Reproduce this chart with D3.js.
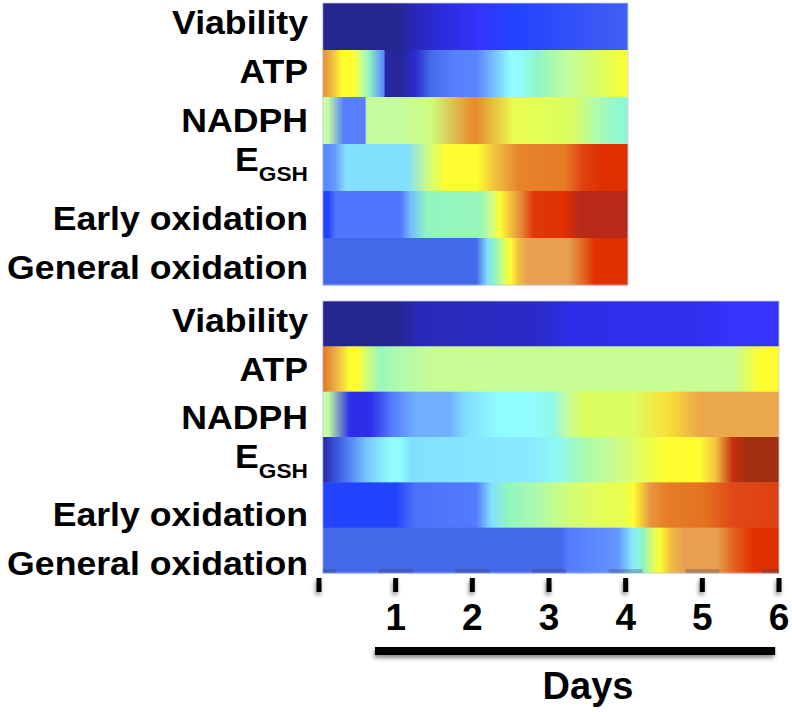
<!DOCTYPE html>
<html>
<head>
<meta charset="utf-8">
<script src="https://cdn.jsdelivr.net/npm/d3@7"></script>
<style>
  html, body { margin: 0; padding: 0; background: #fff; }
  svg { display: block; }
  text { font-family: "Liberation Sans", Arial, Helvetica, sans-serif; font-weight: bold; fill: #000; }
</style>
</head>
<body>
<svg id="chart" width="792" height="712"></svg>
<script>
// ---------------- DATA ----------------
const rowNames = ["Viability", "ATP", "NADPH", "EGSH", "Early oxidation", "General oxidation"];
const dayTicks = [0, 1, 2, 3, 4, 5, 6];
const tickLabels = ["", "1", "2", "3", "4", "5", "6"];
const axisTitle = "Days";

// extent of each panel in days
const shortExtent = [0.05, 4.03];
const longExtent = [0.05, 6.0];
const daysBar = [0.73, 5.95];

// colour-map values (0 = low / dark blue, 1 = high / dark red) along days: [day, value]
const shortViability = [[0.05,0.00],[1.00,0.00],[1.20,0.04],[1.60,0.10],[2.10,0.15],[2.60,0.17],[3.30,0.19],[4.03,0.21]];
const shortATP = [[0.05,0.84],[0.18,0.76],[0.30,0.70],[0.45,0.70],[0.55,0.60],[0.65,0.52],[0.85,0.28],[0.86,0.02],[1.06,0.01],[1.25,0.08],[1.45,0.22],[1.75,0.27],[2.05,0.28],[2.25,0.34],[2.50,0.45],[2.62,0.45],[2.85,0.52],[3.25,0.58],[3.67,0.64],[4.03,0.70]];
const shortNADPH = [[0.05,0.58],[0.12,0.58],[0.32,0.27],[0.60,0.27],[0.62,0.58],[1.06,0.58],[1.45,0.61],[2.00,0.84],[2.05,0.84],[2.55,0.66],[3.30,0.64],[3.60,0.56],[3.90,0.50],[4.03,0.50]];
const shortEGSH = [[0.05,0.28],[0.20,0.30],[0.35,0.40],[1.15,0.40],[1.45,0.62],[1.65,0.70],[2.05,0.70],[2.30,0.76],[2.60,0.85],[3.20,0.86],[3.45,0.91],[3.67,0.93],[4.03,0.93]];
const shortEarly = [[0.05,0.17],[0.12,0.17],[0.22,0.25],[1.06,0.25],[1.20,0.35],[1.40,0.52],[2.10,0.53],[2.25,0.60],[2.36,0.70],[2.45,0.74],[2.60,0.82],[2.80,0.92],[3.20,0.93],[3.40,0.98],[4.03,0.98]];
const shortGeneral = [[0.05,0.22],[2.05,0.22],[2.20,0.40],[2.30,0.52],[2.42,0.64],[2.50,0.70],[2.60,0.76],[2.72,0.80],[3.25,0.80],[3.45,0.88],[3.60,0.93],[4.03,0.93]];

const longViability = [[0.05,0.00],[1.00,0.00],[1.30,0.05],[2.80,0.07],[3.30,0.12],[4.97,0.13],[5.40,0.15],[6.00,0.15]];
const longATP = [[0.05,0.87],[0.22,0.78],[0.40,0.70],[0.50,0.70],[0.62,0.62],[0.80,0.53],[1.06,0.56],[1.50,0.59],[5.40,0.59],[5.57,0.64],[5.75,0.70],[6.00,0.70]];
const longNADPH = [[0.05,0.58],[0.12,0.58],[0.40,0.12],[0.67,0.12],[0.97,0.27],[1.27,0.33],[1.70,0.33],[1.93,0.40],[2.36,0.45],[2.80,0.45],[3.06,0.48],[3.23,0.58],[3.45,0.64],[4.10,0.64],[4.55,0.73],[4.97,0.79],[6.00,0.79]];
const longEGSH = [[0.05,0.03],[0.30,0.22],[0.62,0.36],[0.93,0.45],[1.06,0.45],[1.20,0.40],[2.80,0.42],[3.15,0.47],[3.45,0.55],[3.90,0.60],[4.32,0.67],[4.55,0.70],[4.97,0.70],[5.18,0.76],[5.40,0.96],[5.60,1.00],[6.00,1.00]];
const longEarly = [[0.05,0.17],[1.00,0.17],[1.25,0.24],[2.05,0.26],[2.25,0.40],[2.45,0.52],[2.80,0.55],[3.30,0.62],[3.67,0.65],[3.97,0.66],[4.10,0.70],[4.32,0.82],[4.55,0.86],[5.00,0.87],[5.40,0.90],[6.00,0.91]];
const longGeneral = [[0.05,0.22],[3.15,0.22],[3.25,0.26],[3.90,0.30],[4.10,0.42],[4.23,0.52],[4.36,0.64],[4.45,0.70],[4.58,0.76],[4.75,0.80],[5.18,0.80],[5.40,0.88],[5.66,0.93],[6.00,0.93]];

// jet-like colour map
const cmapValues = [0.00,0.04,0.08,0.12,0.15,0.17,0.20,0.22,0.25,0.28,0.33,0.40,0.45,0.52,0.58,0.64,0.70,0.76,0.80,0.84,0.87,0.90,0.93,0.98,1.00];
const cmapColors = ["#25258f","#2828b0","#2a2ad0","#2e2ee8","#3434fc","#2244ff","#3c58f4","#4468ea","#5076ff","#5a84ff","#70b0ff","#82e0ff","#90fcff","#8ff6c0","#c4fca0","#dcfe60","#fefe30","#f2c040","#e8a050","#e88c30","#e47420","#e04818","#e03000","#b82a18","#a03010"];

const shortPanel = [shortViability, shortATP, shortNADPH, shortEGSH, shortEarly, shortGeneral];
const longPanel = [longViability, longATP, longNADPH, longEGSH, longEarly, longGeneral];

// ---------------- DRAWING ----------------
const svg = d3.select("#chart");
const defs = svg.append("defs");

const x = d3.scaleLinear().domain([0, 6]).range([319, 779]);
const color = d3.scaleLinear().domain(cmapValues).range(cmapColors).clamp(true);

const shadow = defs.append("filter").attr("id", "shadow")
  .attr("filterUnits", "userSpaceOnUse")
  .attr("x", 0).attr("y", 0).attr("width", 792).attr("height", 712);
shadow.append("feDropShadow").attr("dx", -1).attr("dy", 3).attr("stdDeviation", 2.2)
  .attr("flood-color", "#000").attr("flood-opacity", 0.45);

function drawPanel(id, panelData, extent, yRange, labelRange) {
  const y = d3.scaleBand().domain(rowNames).range(yRange);
  const x0 = x(extent[0]), x1 = x(extent[1]);
  const g = svg.append("g").attr("class", "panel-" + id);

  rowNames.forEach((name, i) => {
    const gid = `g-${id}-${i}`;
    const grad = defs.append("linearGradient").attr("id", gid)
      .attr("gradientUnits", "userSpaceOnUse")
      .attr("x1", x0).attr("x2", x1).attr("y1", 0).attr("y2", 0);
    grad.selectAll("stop").data(panelData[i]).join("stop")
      .attr("offset", d => Math.max(0, Math.min(1, (x(d[0]) - x0) / (x1 - x0))))
      .attr("stop-color", d => color(d[1]));
    g.append("rect")
      .attr("x", x0).attr("width", x1 - x0)
      .attr("y", y(name)).attr("height", y.bandwidth() + 0.5)
      .attr("fill", `url(#${gid})`);
  });

  g.append("rect")
    .attr("x", x0).attr("y", yRange[0]).attr("width", x1 - x0).attr("height", yRange[1] - yRange[0])
    .attr("fill", "none").attr("stroke", "#c4cce6").attr("stroke-width", 0.8);

  const ly = d3.scalePoint().domain(rowNames).range(labelRange);
  rowNames.forEach(name => {
    const isE = name === "EGSH";
    const t = g.append("text")
      .attr("text-anchor", "end")
      .attr("font-size", 33)
      .attr("transform", `translate(308,${ly(name) - (isE ? 10 : 0)}) scale(1.08,1)`);
    if (isE) {
      t.append("tspan").text("E");
      t.append("tspan").attr("font-size", 21).attr("dy", 10).text("GSH");
    } else {
      t.text(name);
    }
  });
  return y;
}

drawPanel("short", shortPanel, shortExtent, [3, 285], [34, 279]);
drawPanel("long", longPanel, longExtent, [301, 573], [332, 575]);

// faint tick shadows at bottom of lower panel
const lx0 = x(longExtent[0]), lx1 = x(longExtent[1]);
svg.append("g").selectAll("rect").data(dayTicks).join("rect")
  .attr("x", d => Math.max(lx0, x(d) - 17))
  .attr("width", d => Math.min(lx1, x(d) + 17) - Math.max(lx0, x(d) - 17))
  .attr("y", 569).attr("height", 4)
  .attr("fill", "#3a3a60").attr("opacity", 0.3);

// axis: labels from d3 axis, thick tick marks as rects
const axisY = 578, tickLen = 14, tickW = 5;
const axis = d3.axisBottom(x).tickValues(dayTicks)
  .tickFormat((d, i) => tickLabels[i]).tickSize(0).tickPadding(tickLen + 12).offset(0);
const ax = svg.append("g").attr("transform", `translate(0,${axisY})`).call(axis);
ax.select(".domain").remove();
ax.selectAll(".tick line").remove();
ax.selectAll(".tick text").attr("font-size", 37).attr("font-family", "'Liberation Sans', Arial, sans-serif")
  .attr("font-weight", "bold").attr("fill", "#000");
svg.append("g").attr("filter", "url(#shadow)")
  .selectAll("rect").data(dayTicks).join("rect")
  .attr("x", d => x(d) - tickW / 2).attr("width", tickW)
  .attr("y", axisY).attr("height", tickLen)
  .attr("fill", "#000");

// Days bar and title
svg.append("line")
  .attr("x1", x(daysBar[0])).attr("x2", x(daysBar[1]))
  .attr("y1", 651).attr("y2", 651)
  .attr("stroke", "#000").attr("stroke-width", 8).attr("filter", "url(#shadow)");
svg.append("text").attr("x", 588).attr("y", 699).attr("text-anchor", "middle")
  .attr("font-size", 38).text(axisTitle);
</script>
</body>
</html>
